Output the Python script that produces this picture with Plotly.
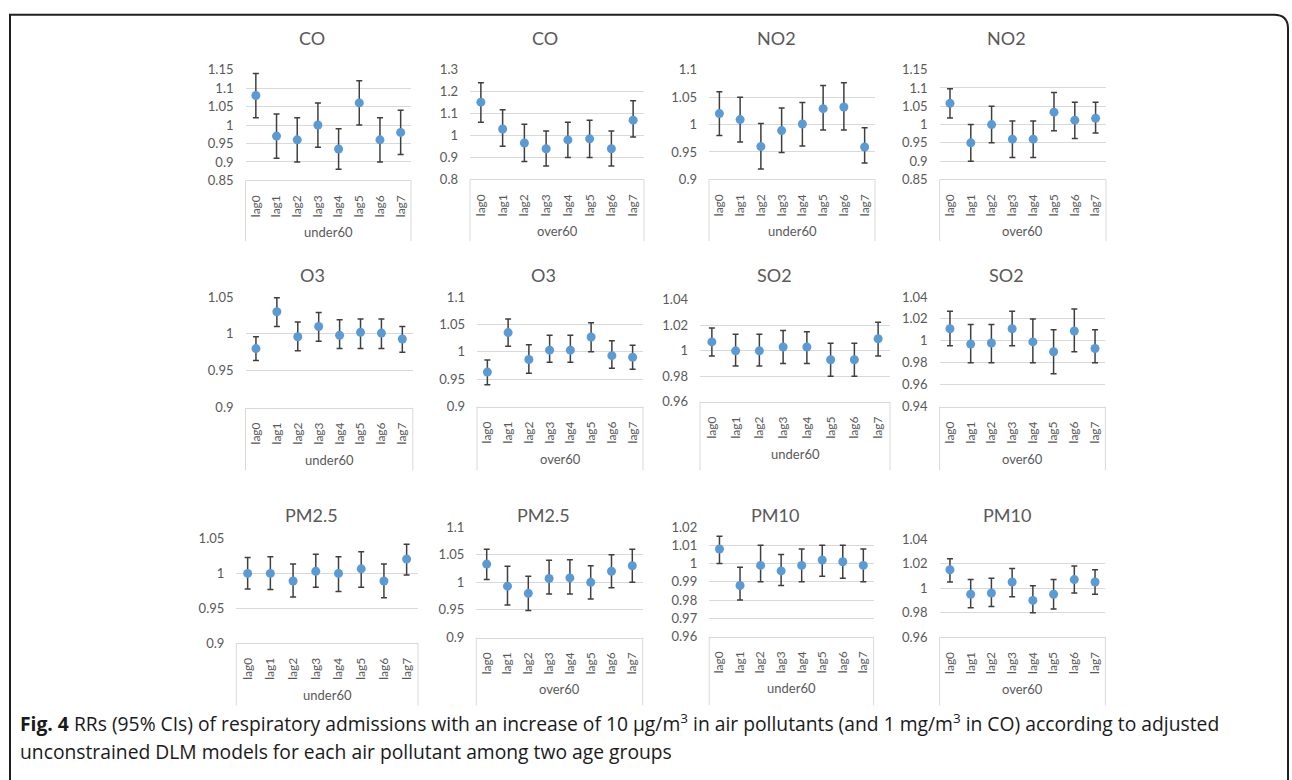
import plotly.graph_objects as go

W, H = 1292, 780

lags = ["lag0", "lag1", "lag2", "lag3", "lag4", "lag5", "lag6", "lag7"]
groups = ["under60", "over60"]
pollutants = ["CO", "CO", "NO2", "NO2", "O3", "O3", "SO2", "SO2", "PM2.5", "PM2.5", "PM10", "PM10"]

# ---- RR values and 95% CI ----
co_u60_rr = [1.08, 0.97, 0.96, 1.00, 0.935, 1.06, 0.96, 0.98]
co_u60_lo = [1.02, 0.91, 0.90, 0.94, 0.88, 1.00, 0.90, 0.92]
co_u60_hi = [1.14, 1.03, 1.02, 1.06, 0.99, 1.12, 1.02, 1.04]

co_o60_rr = [1.152, 1.03, 0.966, 0.94, 0.98, 0.985, 0.94, 1.07]
co_o60_lo = [1.061, 0.951, 0.882, 0.861, 0.90, 0.90, 0.861, 0.993]
co_o60_hi = [1.24, 1.118, 1.051, 1.021, 1.06, 1.07, 1.021, 1.158]

no2_u60_rr = [1.02, 1.009, 0.96, 0.989, 1.001, 1.029, 1.032, 0.959]
no2_u60_lo = [0.98, 0.968, 0.919, 0.949, 0.961, 0.99, 0.99, 0.93]
no2_u60_hi = [1.06, 1.05, 1.002, 1.03, 1.04, 1.071, 1.076, 0.994]

no2_o60_rr = [1.058, 0.95, 1.0, 0.96, 0.96, 1.034, 1.012, 1.017]
no2_o60_lo = [1.018, 0.90, 0.95, 0.91, 0.91, 0.983, 0.962, 0.977]
no2_o60_hi = [1.098, 1.0, 1.05, 1.01, 1.01, 1.088, 1.061, 1.061]

o3_u60_rr = [0.98, 1.03, 0.996, 1.01, 0.998, 1.002, 1.001, 0.993]
o3_u60_lo = [0.964, 1.01, 0.977, 0.99, 0.98, 0.98, 0.98, 0.975]
o3_u60_hi = [0.996, 1.049, 1.016, 1.029, 1.019, 1.02, 1.02, 1.01]

o3_o60_rr = [0.963, 1.035, 0.986, 1.003, 1.003, 1.027, 0.993, 0.99]
o3_o60_lo = [0.94, 1.01, 0.961, 0.981, 0.981, 1.0, 0.97, 0.968]
o3_o60_hi = [0.985, 1.06, 1.013, 1.03, 1.03, 1.053, 1.02, 1.012]

so2_u60_rr = [1.007, 1.0, 1.0, 1.003, 1.003, 0.993, 0.993, 1.0095]
so2_u60_lo = [0.996, 0.988, 0.988, 0.99, 0.99, 0.98, 0.98, 0.996]
so2_u60_hi = [1.018, 1.013, 1.013, 1.016, 1.015, 1.006, 1.006, 1.0225]

so2_o60_rr = [1.011, 0.997, 0.998, 1.011, 0.999, 0.99, 1.009, 0.993]
so2_o60_lo = [0.9955, 0.98, 0.98, 0.9955, 0.98, 0.97, 0.99, 0.98]
so2_o60_hi = [1.027, 1.015, 1.015, 1.027, 1.02, 1.01, 1.029, 1.01]

pm25_u60_rr = [1.0, 1.0, 0.989, 1.003, 1.0, 1.0065, 0.989, 1.0206]
pm25_u60_lo = [0.9775, 0.977, 0.966, 0.98, 0.974, 0.98, 0.965, 0.9976]
pm25_u60_hi = [1.023, 1.024, 1.0135, 1.0276, 1.024, 1.031, 1.0135, 1.042]

pm25_o60_rr = [1.033, 0.993, 0.98, 1.007, 1.008, 1.0, 1.02, 1.03]
pm25_o60_lo = [1.005, 0.959, 0.949, 0.979, 0.979, 0.97, 0.99, 1.0]
pm25_o60_hi = [1.06, 1.029, 1.011, 1.04, 1.041, 1.03, 1.05, 1.06]

pm10_u60_rr = [1.008, 0.988, 0.999, 0.996, 0.999, 1.002, 1.001, 0.999]
pm10_u60_lo = [1.0, 0.98, 0.99, 0.988, 0.99, 0.993, 0.992, 0.99]
pm10_u60_hi = [1.015, 0.998, 1.01, 1.005, 1.008, 1.01, 1.01, 1.008]

pm10_o60_rr = [1.015, 0.995, 0.996, 1.005, 0.99, 0.995, 1.007, 1.005]
pm10_o60_lo = [1.005, 0.984, 0.985, 0.993, 0.98, 0.983, 0.996, 0.995]
pm10_o60_hi = [1.024, 1.007, 1.008, 1.016, 1.002, 1.007, 1.018, 1.015]

# ---- y-axis tick labels per panel ----
ticks_co_u60 = ["0.85", "0.9", "0.95", "1", "1.05", "1.1", "1.15"]
ticks_co_o60 = ["0.8", "0.9", "1", "1.1", "1.2", "1.3"]
ticks_no2_u60 = ["0.9", "0.95", "1", "1.05", "1.1"]
ticks_no2_o60 = ["0.85", "0.9", "0.95", "1", "1.05", "1.1", "1.15"]
ticks_o3_u60 = ["0.9", "0.95", "1", "1.05"]
ticks_o3_o60 = ["0.9", "0.95", "1", "1.05", "1.1"]
ticks_so2_u60 = ["0.96", "0.98", "1", "1.02", "1.04"]
ticks_so2_o60 = ["0.94", "0.96", "0.98", "1", "1.02", "1.04"]
ticks_pm25_u60 = ["0.9", "0.95", "1", "1.05"]
ticks_pm25_o60 = ["0.9", "0.95", "1", "1.05", "1.1"]
ticks_pm10_u60 = ["0.96", "0.97", "0.98", "0.99", "1", "1.01", "1.02"]
ticks_pm10_o60 = ["0.96", "0.98", "1", "1.02", "1.04"]

series = [
    (co_u60_rr, co_u60_lo, co_u60_hi, ticks_co_u60, 0),
    (co_o60_rr, co_o60_lo, co_o60_hi, ticks_co_o60, 1),
    (no2_u60_rr, no2_u60_lo, no2_u60_hi, ticks_no2_u60, 0),
    (no2_o60_rr, no2_o60_lo, no2_o60_hi, ticks_no2_o60, 1),
    (o3_u60_rr, o3_u60_lo, o3_u60_hi, ticks_o3_u60, 0),
    (o3_o60_rr, o3_o60_lo, o3_o60_hi, ticks_o3_o60, 1),
    (so2_u60_rr, so2_u60_lo, so2_u60_hi, ticks_so2_u60, 0),
    (so2_o60_rr, so2_o60_lo, so2_o60_hi, ticks_so2_o60, 1),
    (pm25_u60_rr, pm25_u60_lo, pm25_u60_hi, ticks_pm25_u60, 0),
    (pm25_o60_rr, pm25_o60_lo, pm25_o60_hi, ticks_pm25_o60, 1),
    (pm10_u60_rr, pm10_u60_lo, pm10_u60_hi, ticks_pm10_u60, 0),
    (pm10_o60_rr, pm10_o60_lo, pm10_o60_hi, ticks_pm10_o60, 1),
]

# ---- layout (pixel boxes of each plot area: x0, x1, ytop, ybottom) ----
boxes = [
    (245.5, 411.0, 63, 176), (470, 644, 63, 175), (709, 875, 63, 175), (939.6, 1106, 63, 175),
    (245.5, 412.8, 295, 408), (477, 643, 295, 407), (700, 890, 298, 402), (939.6, 1105.4, 295, 407),
    (236.3, 418, 541.7, 648.3), (476.3, 642.7, 530, 642.7), (709.2, 873.6, 530, 641.7), (939.6, 1105.4, 542.3, 642.3),
]
title_pos = [
    (311.7, 31), (545, 31), (776.7, 31), (1006.7, 31),
    (312.3, 273), (543.3, 273), (774.3, 273), (1006.7, 273),
    (311.7, 518), (543.3, 518), (775, 518), (1006.7, 518),
]
row_box_bottom = [238, 472, 712]

def fx(p):
    return p / W

def fy(p):
    return 1 - p / H

GRAY = "#595959"
GRID = "#d9d9d9"
FONT = "Lato"

fig = go.Figure()
shapes = []
annotations = []

for i, (rr, lo, hi, tk, g) in enumerate(series):
    n = i + 1
    sfx = "" if n == 1 else str(n)
    x0, x1, yt, yb = boxes[i]
    tv = [float(t) for t in tk]
    fig.add_trace(go.Scatter(
        x=lags, y=rr, mode="markers",
        marker=dict(size=9, color="#5B9BD5"),
        error_y=dict(type="data", symmetric=False,
                     array=[h - r for h, r in zip(hi, rr)],
                     arrayminus=[r - l for r, l in zip(rr, lo)],
                     color="#3f3f3f", thickness=1.5, width=3),
        xaxis="x" + sfx, yaxis="y" + sfx, showlegend=False, cliponaxis=False,
    ))
    fig.layout["xaxis" + sfx] = dict(
        domain=[fx(x0), fx(x1)], anchor="y" + sfx, type="category",
        categoryorder="array", categoryarray=lags, range=[-0.5, len(lags) - 0.5],
        tickangle=-90, showgrid=False, showline=True, linecolor=GRID, linewidth=1,
        ticks="", ticklabelstandoff=9, tickfont=dict(family=FONT, size=12, color=GRAY),
        fixedrange=True,
    )
    fig.layout["yaxis" + sfx] = dict(
        domain=[fy(yb), fy(yt)], anchor="x" + sfx, range=[tv[0], tv[-1]],
        tickmode="array", tickvals=tv, ticktext=tk,
        showgrid=True, gridcolor=GRID, gridwidth=1, zeroline=False, showline=False,
        ticks="", ticklabelstandoff=11, tickfont=dict(family=FONT, size=13, color=GRAY),
        fixedrange=True,
    )
    row = i // 4
    for xd in (0, 1):
        shapes.append(dict(type="line", xref="x" + sfx + " domain", yref="paper",
                           x0=xd, x1=xd, y0=fy(yb), y1=fy(row_box_bottom[row]),
                           line=dict(color=GRID, width=1)))
    annotations.append(dict(xref="x" + sfx + " domain", yref="paper", x=0.5, y=fy(yb + 53),
                            text=groups[g], showarrow=False, xanchor="center", yanchor="middle",
                            font=dict(family=FONT, size=13, color=GRAY)))
    tx, ty = title_pos[i]
    annotations.append(dict(xref="paper", yref="paper", x=fx(tx), y=fy(ty),
                            text=pollutants[i], showarrow=False, xanchor="center", yanchor="middle",
                            font=dict(family=FONT, size=18, color=GRAY)))

# caption
cap1 = ("<b>Fig. 4</b> RRs (95% CIs) of respiratory admissions with an increase of 10 μg/m<sup>3</sup> "
        "in air pollutants (and 1 mg/m<sup>3</sup> in CO) according to adjusted")
cap2 = "unconstrained DLM models for each air pollutant among two age groups"
for txt, yy in ((cap1, 730), (cap2, 759)):
    annotations.append(dict(xref="paper", yref="paper", x=fx(18), y=fy(yy), text=txt,
                            showarrow=False, xanchor="left", yanchor="middle",
                            font=dict(family="Open Sans", size=19.3, color="#1a1a1a")))

# outer frame (square top-left, rounded top-right)
L, T, R, B, rad = 10, 7, 1288, 790, 14
path = (f"M {fx(L)},{fy(B)} L {fx(L)},{fy(T)} L {fx(R - rad)},{fy(T)} "
        f"Q {fx(R)},{fy(T)} {fx(R)},{fy(T + rad)} L {fx(R)},{fy(B)}")
shapes.append(dict(type="path", xref="paper", yref="paper", path=path,
                   line=dict(color="#231f20", width=2)))

fig.update_layout(
    width=W, height=H, autosize=False,
    margin=dict(l=0, r=0, t=0, b=0),
    paper_bgcolor="white", plot_bgcolor="white",
    shapes=shapes, annotations=annotations,
)

fig.write_html("out.html",
               post_script="document.body.style.margin='0';document.body.style.overflow='hidden';")
